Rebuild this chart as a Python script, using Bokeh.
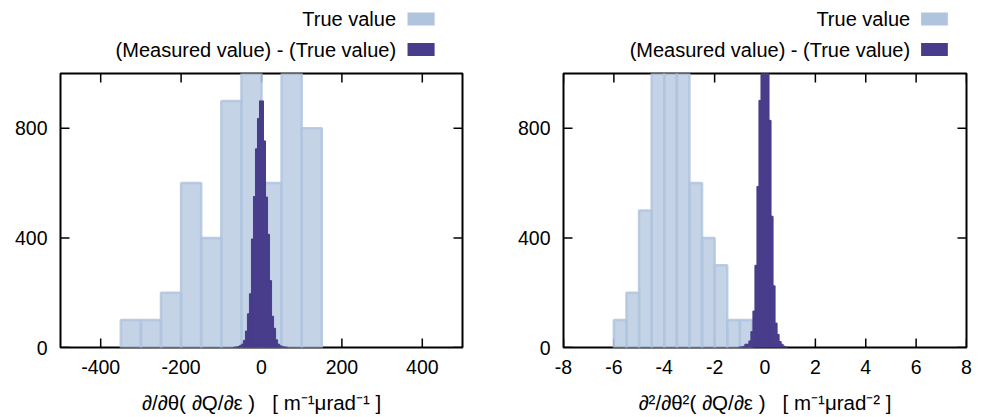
import math

from bokeh.plotting import figure
from bokeh.layouts import row, column
from bokeh.models import FixedTicker, Label, BoxAnnotation
from bokeh.embed import file_html
from bokeh.resources import INLINE

# ---- first derivative: d/dtheta (dQ/deps) ----
d1_true_centers = [-325, -275, -225, -175, -125, -75, -25, 25, 75, 125]
d1_true_counts = [100, 100, 200, 600, 400, 900, 1300, 600, 1300, 800]
d1_true_width = 50

d1_diff_centers = [-67.5, -62.5, -57.5, -52.5, -47.5, -42.5, -37.5, -32.5, -27.5,
                   -22.5, -17.5, -12.5, -7.5, -2.5, 2.5, 7.5, 12.5, 17.5, 22.5,
                   27.5, 32.5, 37.5, 42.5, 47.5, 52.5, 57.5, 62.5]
d1_diff_counts = [1, 2, 3, 7, 12, 26, 60, 123, 196,
                  396, 551, 725, 836, 900, 900, 754, 549, 413, 244,
                  114, 70, 28, 12, 6, 3, 2, 1]
d1_diff_width = 5

d1_x_range = (-500, 500)
d1_x_ticks = [-400, -200, 0, 200, 400]
d1_label = "\u2202/\u2202\u03b8( \u2202Q/\u2202\u03b5 )\u00a0\u00a0\u00a0[ m\u207b\u00b9\u03bcrad\u207b\u00b9 ]"

# ---- second derivative: d2/dtheta2 (dQ/deps) ----
d2_true_centers = [-5.75, -5.25, -4.75, -4.25, -3.75, -3.25, -2.75, -2.25, -1.75, -1.25, -0.75]
d2_true_counts = [100, 200, 500, 1200, 1300, 1200, 600, 400, 300, 100, 100]
d2_true_width = 0.5

d2_diff_centers = [-1.00, -0.92, -0.84, -0.76, -0.68, -0.60, -0.52, -0.44, -0.36, -0.28,
                   -0.20, -0.12, -0.04, 0.04, 0.12, 0.20, 0.28, 0.36, 0.44, 0.52,
                   0.60, 0.68, 0.76, 0.84]
d2_diff_counts = [2, 2, 4, 12, 12, 24, 58, 133, 300, 588,
                  902, 1100, 1250, 1220, 1080, 829, 479, 225, 89, 48,
                  22, 12, 5, 2]
d2_diff_width = 0.08

d2_x_range = (-8, 8)
d2_x_ticks = [-8, -6, -4, -2, 0, 2, 4, 6, 8]
d2_label = "\u2202\u00b2/\u2202\u03b8\u00b2( \u2202Q/\u2202\u03b5 )\u00a0\u00a0\u00a0[ m\u207b\u00b9\u03bcrad\u207b\u00b2 ]"

y_range = (0, 1000)
y_ticks = [0, 400, 800]
legend_labels = ["True value", "(Measured value) - (True value)"]
legend_colors = ["#b0c4de", "#483d8b"]

LIGHT = "#b0c4de"
DARK = "#483d8b"
FONT = "Liberation Sans"
TICK_FSIZE = "19.5px"
TEXT_FSIZE = "20px"
HEADER_H = 72
TICK_LEN = 9

LIGHT_STYLE = dict(fill_color=LIGHT, fill_alpha=0.75, line_color=LIGHT,
                   line_width=2.5, line_alpha=0.85)
DARK_STYLE = dict(fill_color=DARK, line_color=DARK, line_width=1)


def style_axis(ax, ticks):
    ax.ticker = FixedTicker(ticks=ticks)
    ax.major_label_overrides = {t: f"{t:g}" for t in ticks}
    ax.axis_line_color = None
    ax.major_tick_line_color = None
    ax.minor_tick_line_color = None
    ax.major_tick_in = 0
    ax.major_tick_out = 0
    ax.minor_tick_in = 0
    ax.minor_tick_out = 0
    ax.major_label_text_font = FONT
    ax.major_label_text_font_size = TICK_FSIZE
    ax.major_label_text_color = "black"


def header(width, swatch_x, text_x):
    """Key strip above a panel: right-aligned texts followed by colour swatches.

    The strip's ranges equal its pixel size, so positions below are in pixels
    (y measured upward from the strip's bottom edge)."""
    h = figure(width=width, height=HEADER_H, x_range=(0, width), y_range=(0, HEADER_H),
               output_backend="svg", toolbar_location=None, title=None,
               x_axis_type=None, y_axis_type=None,
               min_border=0, min_border_left=0, min_border_right=0,
               min_border_top=0, min_border_bottom=0)
    h.grid.visible = False
    h.outline_line_color = None
    row_centers = [HEADER_H - 18.5, HEADER_H - 49]
    for txt, col, yc in zip(legend_labels, legend_colors, row_centers):
        h.add_layout(Label(x=text_x, y=yc, text=txt, text_align="right",
                           text_baseline="middle", text_font=FONT,
                           text_font_size=TEXT_FSIZE, text_color="black"))
        h.add_layout(BoxAnnotation(left=swatch_x, right=swatch_x + 33,
                                   bottom=yc - 6.5, top=yc + 6.5,
                                   fill_color=col, fill_alpha=1,
                                   line_color=None))
    return h


def panel(true_x, true_y, true_w, diff_x, diff_y, diff_w, xr, x_ticks, x_label,
          width, b_left, b_right):
    p = figure(width=width, height=417 - HEADER_H, x_range=xr, y_range=y_range,
               output_backend="svg", toolbar_location=None,
               min_border_left=b_left, min_border_right=b_right,
               min_border_top=1, min_border_bottom=70)
    p.xgrid.visible = False
    p.ygrid.visible = False
    p.outline_line_color = "black"
    p.outline_line_width = 2
    p.outline_line_alpha = 1

    # inward tick marks on all four sides (drawn first so the bars cover them)
    tick_style = dict(length=TICK_LEN, length_units="screen",
                      line_color="black", line_width=1.5)
    p.ray(x=x_ticks, y=[y_range[0]] * len(x_ticks), angle=math.pi / 2, **tick_style)
    p.ray(x=x_ticks, y=[y_range[1]] * len(x_ticks), angle=-math.pi / 2, **tick_style)
    p.ray(x=[xr[0]] * len(y_ticks), y=y_ticks, angle=0, **tick_style)
    p.ray(x=[xr[1]] * len(y_ticks), y=y_ticks, angle=math.pi, **tick_style)

    p.vbar(x=true_x, top=true_y, width=true_w, bottom=0, **LIGHT_STYLE)
    p.vbar(x=diff_x, top=diff_y, width=diff_w, bottom=0, **DARK_STYLE)

    xa = p.xaxis[0]
    style_axis(xa, x_ticks)
    xa.major_label_standoff = 12
    xa.axis_label = x_label
    xa.axis_label_text_font = FONT
    xa.axis_label_text_font_size = "20.5px"
    xa.axis_label_text_font_style = "normal"
    xa.axis_label_text_color = "black"
    xa.axis_label_standoff = 14

    ya = p.yaxis[0]
    style_axis(ya, y_ticks)
    ya.major_label_standoff = 13
    return p


h1 = header(490, 423, 409)
p1 = panel(d1_true_centers, d1_true_counts, d1_true_width,
           d1_diff_centers, d1_diff_counts, d1_diff_width,
           d1_x_range, d1_x_ticks, d1_label, 490, 60, 28)
h2 = header(497, 441, 427.5)
p2 = panel(d2_true_centers, d2_true_counts, d2_true_width,
           d2_diff_centers, d2_diff_counts, d2_diff_width,
           d2_x_range, d2_x_ticks, d2_label, 497, 73, 21)

layout = row(column(h1, p1), column(h2, p2))
open("out.html", "w").write(file_html(layout, INLINE))
